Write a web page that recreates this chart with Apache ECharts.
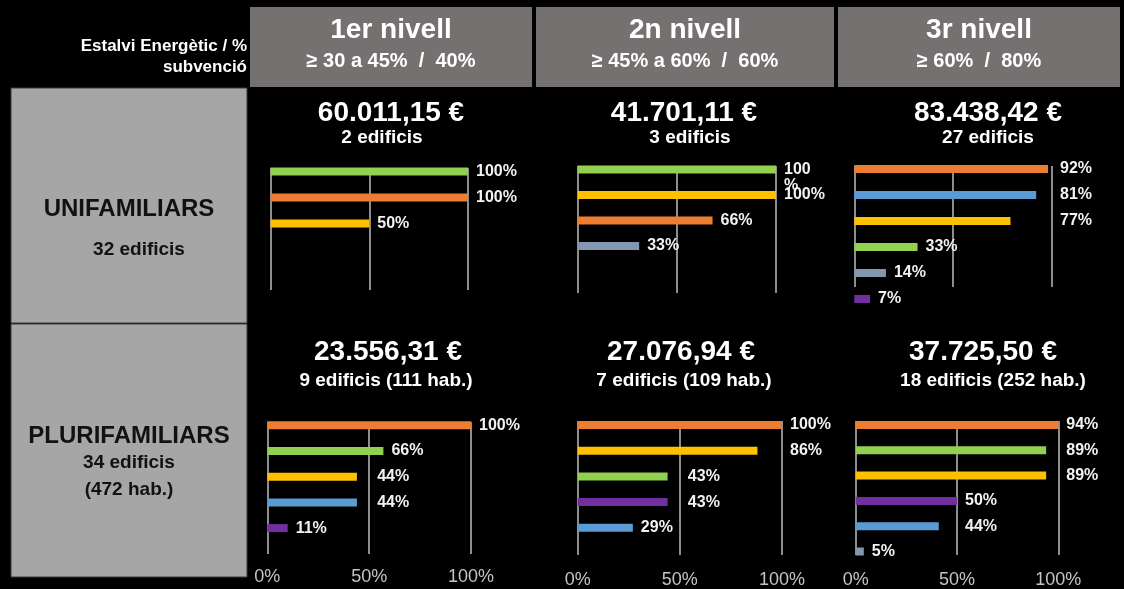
<!DOCTYPE html>
<html>
<head>
<meta charset="utf-8">
<title>Estalvi energètic per nivell</title>
<script src="https://cdn.jsdelivr.net/npm/echarts@6/dist/echarts.min.js"></script>
<style>
  html, body { margin: 0; padding: 0; background: #000; }
  #chart { width: 1124px; height: 589px; }
</style>
</head>
<body>
<div id="chart"></div>
<script>
// capçaleres
var levelNames = ['1er nivell', '2n nivell', '3r nivell'];
var levelRanges = ['≥ 30 a 45%  /  40%', '≥ 45% a 60%  /  60%', '≥ 60%  /  80%'];
var rowNames = ['UNIFAMILIARS', 'PLURIFAMILIARS'];
var rowSubs = [['32 edificis'], ['34 edificis', '(472 hab.)']];
var uniAmounts = ['60.011,15 €', '41.701,11 €', '83.438,42 €'];
var uniBuildings = ['2 edificis', '3 edificis', '27 edificis'];
var pluAmounts = ['23.556,31 €', '27.076,94 €', '37.725,50 €'];
var pluBuildings = ['9 edificis (111 hab.)', '7 edificis (109 hab.)', '18 edificis (252 hab.)'];

// barres (llargada llegida del gràfic) i etiquetes
var uni1Values = [100, 100, 50];
var uni1Labels = ['100%', '100%', '50%'];
var uni2Values = [100, 100, 68, 31];
var uni2Labels = ['100\n%', '100%', '66%', '33%'];
var uni3Values = [98, 92, 79, 32, 16, 8];
var uni3Labels = ['92%', '81%', '77%', '33%', '14%', '7%'];
var plu1Values = [100, 57, 44, 44, 10];
var plu1Labels = ['100%', '66%', '44%', '44%', '11%'];
var plu2Values = [100, 88, 44, 44, 27];
var plu2Labels = ['100%', '86%', '43%', '43%', '29%'];
var plu3Values = [100, 94, 94, 50, 41, 4];
var plu3Labels = ['94%', '89%', '89%', '50%', '44%', '5%'];

// colors
var ORANGE = '#ED7D31', GREEN = '#92D050', YELLOW = '#FFC000',
    BLUE = '#5B9BD5', SLATE = '#8497B0', PURPLE = '#7030A0';
var uni1Colors = [GREEN, ORANGE, YELLOW];
var uni2Colors = [GREEN, YELLOW, ORANGE, SLATE];
var uni3Colors = [ORANGE, BLUE, YELLOW, GREEN, SLATE, PURPLE];
var plu1Colors = [ORANGE, GREEN, YELLOW, BLUE, PURPLE];
var plu2Colors = [ORANGE, YELLOW, GREEN, PURPLE, BLUE];
var plu3Colors = [ORANGE, GREEN, YELLOW, PURPLE, BLUE, SLATE];

var FONT = 'Liberation Sans';

// posicio de cada panell (snap = columna on s'alinea l'etiqueta)
var panels = [
  { values: uni1Values, labels: uni1Labels, colors: uni1Colors, snap: [0, 0, 0],
    left: 270.5, width: 197.5, lineTop: 168, lineBottom: 290, first: 171.5, slot: 26, axis: false, margin: 12 },
  { values: uni2Values, labels: uni2Labels, colors: uni2Colors, snap: [0, 0, 0, 0],
    left: 577.7, width: 198.3, lineTop: 166, lineBottom: 293, first: 169.5, slot: 25.5, axis: false, margin: 12 },
  { values: uni3Values, labels: uni3Labels, colors: uni3Colors, snap: [100, 100, 100, 0, 0, 0],
    left: 854.3, width: 197.7, lineTop: 166, lineBottom: 287, first: 169, slot: 26, axis: false, margin: 12 },
  { values: plu1Values, labels: plu1Labels, colors: plu1Colors, snap: [0, 0, 50, 50, 0],
    left: 267.3, width: 203.7, lineTop: 422, lineBottom: 554, first: 425.3, slot: 25.7, axis: true, margin: 14 },
  { values: plu2Values, labels: plu2Labels, colors: plu2Colors, snap: [0, 100, 50, 50, 0],
    left: 577.7, width: 204.3, lineTop: 421, lineBottom: 560, first: 425, slot: 25.7, axis: true, margin: 16 },
  { values: plu3Values, labels: plu3Labels, colors: plu3Colors, snap: [0, 100, 100, 50, 50, 0],
    left: 855.7, width: 202.6, lineTop: 421, lineBottom: 559, first: 425, slot: 25.3, axis: true, margin: 16 }
];
var slots = ['1', '2', '3', '4', '5', '6'];

var grids = [], xAxes = [], yAxes = [], series = [];

panels.forEach(function (p, i) {
  var g = i * 2;
  // linies de 0% / 50% / 100%
  grids.push({ left: p.left, width: p.width, top: p.lineTop, height: p.lineBottom - p.lineTop });
  xAxes.push({
    gridIndex: g, type: 'value', min: 0, max: 100, interval: 50,
    axisLine: { show: false }, axisTick: { show: false },
    splitLine: { show: true, lineStyle: { color: '#bdbdbd', width: 1.5 } },
    axisLabel: { show: p.axis, color: '#c4c4c4', fontFamily: FONT, fontSize: 18, margin: p.margin, formatter: '{value}%' }
  });
  yAxes.push({ gridIndex: g, type: 'value', show: false });

  // barres
  grids.push({ left: p.left, width: p.width, top: p.first - p.slot / 2, height: p.slot * 6 });
  xAxes.push({ gridIndex: g + 1, type: 'value', min: 0, max: 100, show: false });
  yAxes.push({ gridIndex: g + 1, type: 'category', inverse: true, data: slots, show: false });

  series.push({
    type: 'bar',
    xAxisIndex: g + 1,
    yAxisIndex: g + 1,
    barWidth: 8,
    silent: true,
    data: p.values.map(function (v, k) {
      var anchor = Math.max(v, p.snap[k]);
      var txt = p.labels[k];
      return {
        value: v,
        itemStyle: { color: p.colors[k] },
        label: {
          show: true,
          formatter: txt,
          position: [anchor / 100 * p.width + 8, '50%'],
          offset: txt.indexOf('\n') >= 0 ? [0, 8] : [0, 0],
          align: 'left',
          verticalAlign: 'middle',
          lineHeight: 16,
          color: '#f2f2f2',
          fontFamily: FONT,
          fontWeight: 'bold',
          fontSize: 16
        }
      };
    })
  });
});

// elements fixos de la taula
var graphics = [];
var boxes = [[250, 532], [536, 834], [838, 1120]];
boxes.forEach(function (b, i) {
  var cx = (b[0] + b[1]) / 2;
  graphics.push({ type: 'rect', shape: { x: b[0], y: 7, width: b[1] - b[0], height: 80 }, style: { fill: '#767171' } });
  graphics.push({ type: 'text', x: cx, y: 30, style: { text: levelNames[i], fill: '#fff', font: 'bold 28px ' + FONT, textAlign: 'center', textVerticalAlign: 'middle' } });
  graphics.push({ type: 'text', x: cx, y: 61, style: { text: levelRanges[i], fill: '#fff', font: 'bold 20px ' + FONT, textAlign: 'center', textVerticalAlign: 'middle' } });
});
graphics.push({ type: 'text', x: 247, y: 46, style: { text: 'Estalvi Energètic / %', fill: '#fff', font: 'bold 17px ' + FONT, textAlign: 'right', textVerticalAlign: 'middle' } });
graphics.push({ type: 'text', x: 247, y: 67, style: { text: 'subvenció', fill: '#fff', font: 'bold 17px ' + FONT, textAlign: 'right', textVerticalAlign: 'middle' } });

// files
graphics.push({ type: 'rect', shape: { x: 11, y: 88, width: 236, height: 235 }, style: { fill: '#a6a6a6', stroke: '#3a3a3a', lineWidth: 1 } });
graphics.push({ type: 'rect', shape: { x: 11, y: 324, width: 236, height: 253 }, style: { fill: '#a6a6a6', stroke: '#3a3a3a', lineWidth: 1 } });
graphics.push({ type: 'text', x: 129, y: 209, style: { text: rowNames[0], fill: '#111', font: 'bold 24px ' + FONT, textAlign: 'center', textVerticalAlign: 'middle' } });
graphics.push({ type: 'text', x: 139, y: 250, style: { text: rowSubs[0][0], fill: '#111', font: 'bold 19px ' + FONT, textAlign: 'center', textVerticalAlign: 'middle' } });
graphics.push({ type: 'text', x: 129, y: 436, style: { text: rowNames[1], fill: '#111', font: 'bold 24px ' + FONT, textAlign: 'center', textVerticalAlign: 'middle' } });
graphics.push({ type: 'text', x: 129, y: 463, style: { text: rowSubs[1][0], fill: '#111', font: 'bold 19px ' + FONT, textAlign: 'center', textVerticalAlign: 'middle' } });
graphics.push({ type: 'text', x: 129, y: 490, style: { text: rowSubs[1][1], fill: '#111', font: 'bold 19px ' + FONT, textAlign: 'center', textVerticalAlign: 'middle' } });

// imports i edificis
var amountX = [391, 684, 988];
var buildX = [[382, 690, 988], [386, 684, 993]];
var amountXB = [388, 681, 983];
uniAmounts.forEach(function (t, i) {
  graphics.push({ type: 'text', x: amountX[i], y: 113, style: { text: t, fill: '#fff', font: 'bold 28px ' + FONT, textAlign: 'center', textVerticalAlign: 'middle' } });
  graphics.push({ type: 'text', x: buildX[0][i], y: 138, style: { text: uniBuildings[i], fill: '#fff', font: 'bold 19px ' + FONT, textAlign: 'center', textVerticalAlign: 'middle' } });
});
pluAmounts.forEach(function (t, i) {
  graphics.push({ type: 'text', x: amountXB[i], y: 352, style: { text: t, fill: '#fff', font: 'bold 28px ' + FONT, textAlign: 'center', textVerticalAlign: 'middle' } });
  graphics.push({ type: 'text', x: buildX[1][i], y: 381, style: { text: pluBuildings[i], fill: '#fff', font: 'bold 19px ' + FONT, textAlign: 'center', textVerticalAlign: 'middle' } });
});

var chart = echarts.init(document.getElementById('chart'));
chart.setOption({
  backgroundColor: '#000',
  animation: false,
  graphic: graphics,
  grid: grids,
  xAxis: xAxes,
  yAxis: yAxes,
  series: series
});
</script>
</body>
</html>
